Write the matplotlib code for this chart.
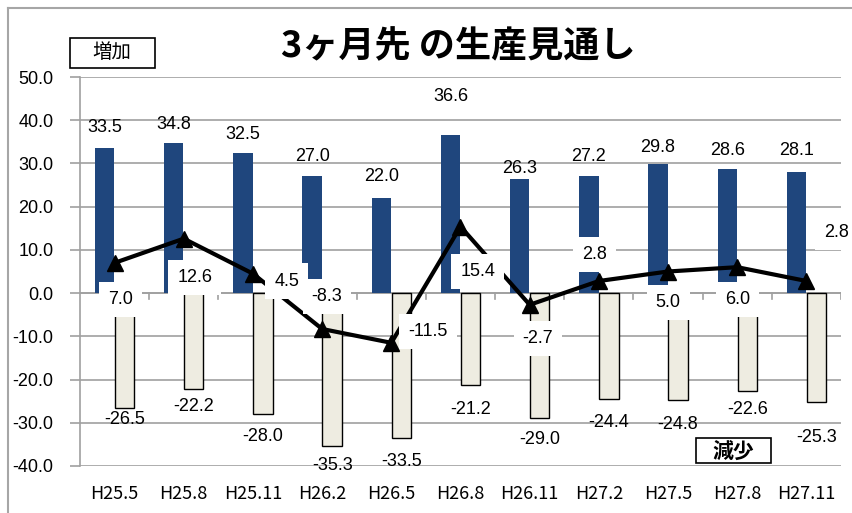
import matplotlib
matplotlib.use("Agg")
import matplotlib.pyplot as plt
from matplotlib.patches import Rectangle
from matplotlib.lines import Line2D
import numpy as np

plt.rcParams['font.family'] = ['Liberation Sans Narrow', 'Noto Sans CJK JP', 'DejaVu Sans']

categories = ["H25.5", "H25.8", "H25.11", "H26.2", "H26.5", "H26.8", "H26.11",
              "H27.2", "H27.5", "H27.8", "H27.11"]
increase = [33.5, 34.8, 32.5, 27.0, 22.0, 36.6, 26.3, 27.2, 29.8, 28.6, 28.1]
decrease = [-26.5, -22.2, -28.0, -35.3, -33.5, -21.2, -29.0, -24.4, -24.8, -22.6, -25.3]
di = [7.0, 12.6, 4.5, -8.3, -11.5, 15.4, -2.7, 2.8, 5.0, 6.0, 2.8]
yticks = [50, 40, 30, 20, 10, 0, -10, -20, -30, -40]

# label layout (positions only)
inc_lab_y = [38.4, 39.1, 36.8, 31.7, 26.9, 45.6, 28.9, 31.7, 33.8, 32.9, 32.9]
dec_lab_y = [-29.2, -26.2, -33.1, -40.0, -38.9, -26.9, -33.8, -29.9, -30.3, -26.9, -33.3]
di_lab_dx = [0.08, 0.16, 0.49, 0.07, 0.53, 0.25, 0.12, -0.06, 0.0, 0.0, 0.43]
di_lab_y = [-1.4, 3.7, 2.8, -0.7, -8.8, 4.9, -10.6, 9.0, -2.1, -1.4, 14.1]

W, H = 853, 513
fig = plt.figure(figsize=(W / 100, H / 100), dpi=100)
# outer chart-area border (top and left visible)
fig.lines.append(Line2D([8 / W, 1.0], [1 - 8 / H, 1 - 8 / H], transform=fig.transFigure,
                        color='#A6A6A6', linewidth=1.5))
fig.lines.append(Line2D([8 / W, 8 / W], [0, 1 - 8 / H], transform=fig.transFigure,
                        color='#A6A6A6', linewidth=1.5))
ax = fig.add_axes([80 / W, 1 - 466 / H, 761 / W, 389 / H])

x = np.arange(len(categories))
w = 0.28
off = 0.145
ax.bar(x - off, increase, width=w, color='#1F467D', zorder=2)
ax.bar(x + off, decrease, width=w, color='#EEECE1', edgecolor='black', linewidth=1.0, zorder=2)
ax.plot(x, di, color='black', linewidth=3, marker='^', markersize=12, zorder=4)

fs = 13
num_font = ['Liberation Sans', 'DejaVu Sans']
for i in range(len(x)):
    ax.text(x[i] - off, inc_lab_y[i], f"{increase[i]:.1f}", ha='center', va='center', fontsize=fs,
            family=num_font, zorder=5)
    ax.text(x[i] + off, dec_lab_y[i], f"{decrease[i]:.1f}", ha='center', va='center', fontsize=fs,
            family=num_font, zorder=5, clip_on=False)
    ax.text(x[i] + di_lab_dx[i], di_lab_y[i], f"{di[i]:.1f}", ha='center', va='center', fontsize=fs,
            family=num_font, zorder=6, clip_on=False,
            bbox=dict(boxstyle='square,pad=0.5', facecolor='white', edgecolor='none'))

ax.set_xlim(-0.5, len(x) - 0.5)
ax.set_ylim(-40, 50)
ax.set_yticks(yticks)
ax.set_yticklabels([f"{v:.1f}" for v in yticks], fontsize=13, family=num_font)
ax.yaxis.grid(True, color='#A0A0A0', linewidth=1.2, zorder=0)
ax.set_axisbelow(True)
for s in ['top', 'right', 'bottom']:
    ax.spines[s].set_visible(False)
ax.spines['left'].set_color('#A0A0A0')
ax.spines['left'].set_linewidth(1.2)
ax.tick_params(axis='y', length=7, color='#A0A0A0', width=1.2, pad=12)

# x axis at zero with boundary ticks
ax.axhline(0, color='#A0A0A0', linewidth=1.2, zorder=1)
for b in np.arange(0.5, len(x) - 0.5 + 1e-9, 1.0):
    ax.plot([b, b], [0, -1.3], color='#A0A0A0', linewidth=1.2, zorder=1)
ax.set_xticks(x)
ax.set_xticklabels(categories, fontsize=13)
ax.tick_params(axis='x', length=0, pad=14)

fig.text(458 / W, 1 - 47 / H, "3ヶ月先 の生産見通し", ha='center', va='center', fontsize=26,
         fontweight='bold', family=['Noto Sans CJK JP', 'DejaVu Sans'])

# boxed annotations
fig.patches.append(Rectangle((70 / W, 1 - 68 / H), 85 / W, 30 / H, transform=fig.transFigure,
                             facecolor='white', edgecolor='black', linewidth=1.2, zorder=9))
fig.text(112 / W, 1 - 53 / H, "増加", ha='center', va='center', fontsize=14,
         family=['Noto Sans CJK JP', 'DejaVu Sans'], zorder=10)
fig.patches.append(Rectangle((696 / W, 1 - 463 / H), 75 / W, 25 / H, transform=fig.transFigure,
                             facecolor='white', edgecolor='black', linewidth=1.2, zorder=9))
fig.text(733 / W, 1 - 451 / H, "減少", ha='center', va='center', fontsize=15, fontweight='bold',
         family=['Noto Sans CJK JP', 'DejaVu Sans'], zorder=10)

fig.savefig("out.png", dpi=100)
